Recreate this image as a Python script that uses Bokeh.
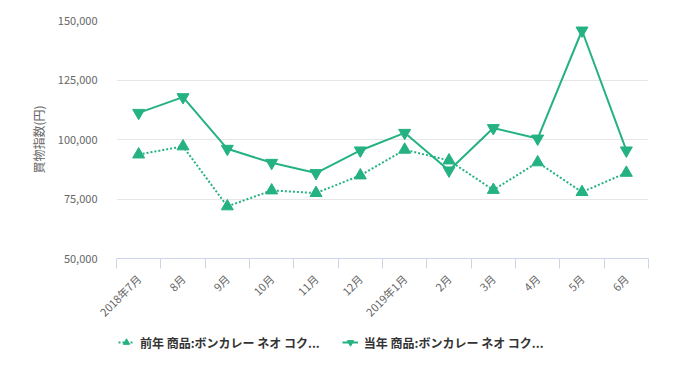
import math
from bokeh.plotting import figure
from bokeh.layouts import column
from bokeh.models import FixedTicker, Range1d, Legend, LegendItem, NumeralTickFormatter
from bokeh.embed import file_html
from bokeh.resources import INLINE

categories = ["2018年7月", "8月", "9月", "10月", "11月", "12月",
              "2019年1月", "2月", "3月", "4月", "5月", "6月"]
prev_year = [93700, 97100, 71900, 78600, 77500, 84900,
             95700, 91200, 78800, 90400, 77900, 86000]
curr_year = [111200, 117800, 96100, 90200, 85900, 95400,
             102800, 87000, 104800, 100400, 145800, 95400]
y_ticks = [50000, 75000, 100000, 125000, 150000]
prev_label = "前年 商品:ボンカレー ネオ コク..."
curr_label = "当年 商品:ボンカレー ネオ コク..."

GREEN = "#25b282"
FONT = "Noto Sans CJK JP"

xs = list(range(len(categories)))

p = figure(frame_width=532, frame_height=238, output_backend="svg", toolbar_location=None,
           x_range=Range1d(-0.5, len(categories) - 0.5),
           y_range=Range1d(min(y_ticks), max(y_ticks)),
           min_border_left=116, min_border_right=25,
           min_border_top=20, min_border_bottom=70)
p.outline_line_color = None
p.background_fill_color = "white"
p.border_fill_color = "white"

# grids
p.xgrid.grid_line_color = None
p.ygrid.ticker = FixedTicker(ticks=y_ticks)
p.ygrid.grid_line_color = "#e6e6e6"
p.ygrid.grid_line_width = 1

# y axis
p.yaxis.ticker = FixedTicker(ticks=y_ticks)
p.yaxis.formatter = NumeralTickFormatter(format="0,0")
p.yaxis.axis_line_color = None
p.yaxis.major_tick_line_color = None
p.yaxis.minor_tick_line_color = None
p.yaxis.major_label_text_color = "#666666"
p.yaxis.major_label_text_font = FONT
p.yaxis.major_label_text_font_size = "11px"
p.yaxis.major_label_standoff = 13
p.yaxis.axis_label = "買物指数(円)"
p.yaxis.axis_label_text_font = FONT
p.yaxis.axis_label_text_font_size = "12px"
p.yaxis.axis_label_text_font_style = "normal"
p.yaxis.axis_label_text_color = "#666666"
p.yaxis.axis_label_standoff = 8

# x axis
bounds = [i - 0.5 for i in range(len(categories) + 1)]
p.xaxis.ticker = FixedTicker(ticks=xs, minor_ticks=bounds)
p.xaxis.major_label_overrides = {i: c for i, c in zip(xs, categories)}
p.xaxis.axis_line_color = "#ccd6eb"
p.xaxis.major_tick_line_color = None
p.xaxis.minor_tick_line_color = "#ccd6eb"
p.xaxis.minor_tick_in = 0
p.xaxis.minor_tick_out = 10
p.xaxis.major_label_orientation = math.pi / 4
p.xaxis.major_label_text_color = "#666666"
p.xaxis.major_label_text_font = FONT
p.xaxis.major_label_text_font_size = "11px"
p.xaxis.major_label_standoff = 8

# series
p.line(xs, prev_year, line_color=GREEN, line_width=2, line_dash="2 2")
p.scatter(xs, prev_year, marker="triangle", size=12, fill_color=GREEN, line_color=GREEN)
p.line(xs, curr_year, line_color=GREEN, line_width=2)
p.scatter(xs, curr_year, marker="inverted_triangle", size=12, fill_color=GREEN, line_color=GREEN)

# legend strip: a second figure whose view range lies far from the data,
# so its copies of the series only feed the legend swatches
q = figure(width=673, height=40, output_backend="svg", toolbar_location=None,
           min_border=0, x_range=Range1d(-100, -99), y_range=Range1d(-100, -99))
q.axis.visible = False
q.grid.visible = False
q.outline_line_color = None
lp1 = q.line(xs, prev_year, line_color=GREEN, line_width=2, line_dash="2 2")
lp2 = q.scatter(xs, prev_year, marker="triangle", size=12, fill_color=GREEN, line_color=GREEN)
lc1 = q.line(xs, curr_year, line_color=GREEN, line_width=2)
lc2 = q.scatter(xs, curr_year, marker="inverted_triangle", size=12, fill_color=GREEN, line_color=GREEN)

legend = Legend(items=[
    LegendItem(label=prev_label, renderers=[lp1, lp2]),
    LegendItem(label=curr_label, renderers=[lc1, lc2]),
], orientation="horizontal", location=(2, 16))
legend.label_text_font = FONT
legend.label_text_font_size = "12px"
legend.label_text_font_style = "bold"
legend.label_text_color = "#333333"
legend.border_line_color = None
legend.background_fill_alpha = 0
legend.glyph_width = 16
legend.label_standoff = 6
legend.spacing = 22
legend.padding = 0
legend.margin = 0
q.add_layout(legend, "center")

layout = column(p, q, spacing=0)
open("out.html", "w").write(file_html(layout, INLINE))
